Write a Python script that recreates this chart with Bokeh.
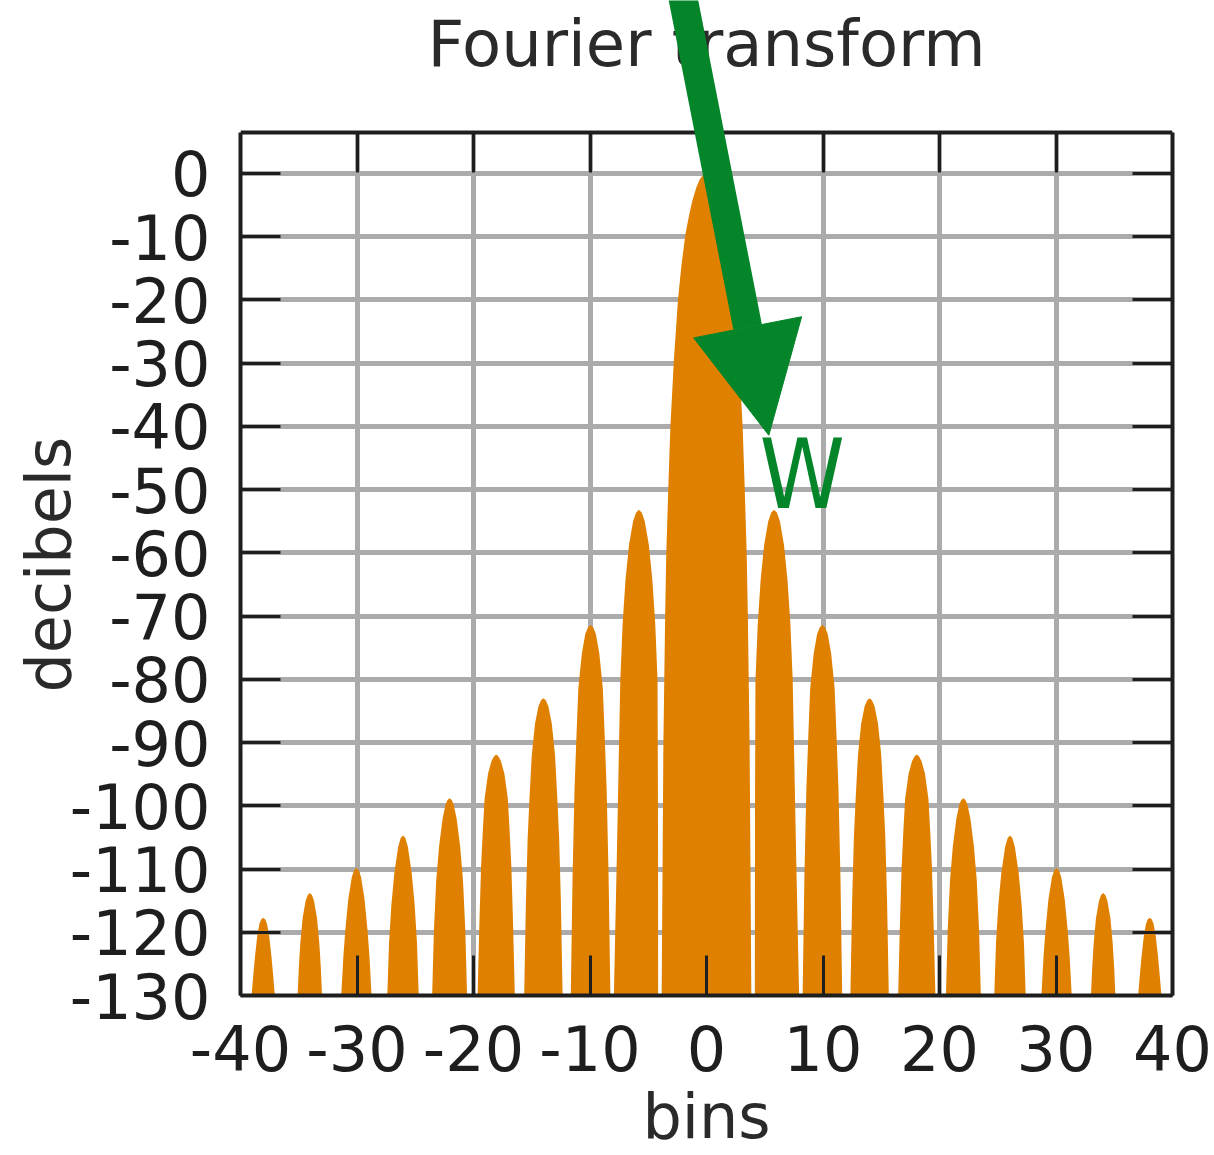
from bokeh.plotting import figure
from bokeh.models import LinearAxis, FixedTicker, Arrow, NormalHead, Label, Range1d, Grid, Title
from bokeh.embed import file_html
from bokeh.resources import INLINE

# Magnitude spectrum outline (bins, decibels), one lobe per line, left to right.
BINS = [
    -39.05, -38.9, -38.75, -38.57, -38.38, -38.23, -38.05, -37.87, -37.72, -37.53, -37.35, -37.2, -37.05,
    -35.1, -35.0, -34.87, -34.67, -34.41, -34.23, -34.05, -33.87, -33.69, -33.43, -33.23, -33.1, -33.0,
    -31.35, -31.17, -31.0, -30.75, -30.45, -30.25, -30.05, -29.85, -29.65, -29.35, -29.1, -28.93, -28.75,
    -27.4, -27.25, -27.05, -26.8, -26.47, -26.25, -26.05, -25.85, -25.63, -25.3, -25.05, -24.85, -24.7,
    -23.55, -23.4, -23.2, -22.95, -22.65, -22.4, -22.23, -22.05, -21.87, -21.7, -21.45, -21.15, -20.9, -20.7, -20.55,
    -19.65, -19.5, -19.35, -19.2, -19.05, -18.75, -18.45, -18.25, -18.05, -17.85, -17.65, -17.35, -17.05, -16.9, -16.75, -16.6, -16.45,
    -15.65, -15.5, -15.35, -15.2, -15.0, -14.72, -14.42, -14.2, -14.0, -13.8, -13.58, -13.28, -13.0, -12.8, -12.65, -12.5, -12.35,
    -11.65, -11.5, -11.33, -11.15, -11.0, -10.7, -10.4, -10.17, -9.95, -9.73, -9.5, -9.2, -8.9, -8.75, -8.57, -8.4, -8.25,
    -7.95, -7.7, -7.4, -7.2, -6.95, -6.65, -6.3, -6.05, -5.8, -5.55, -5.3, -4.95, -4.65, -4.4, -4.2, -4.16, -4.15,
    -3.85, -3.7, -3.55, -3.45, -3.25, -3.1, -2.8, -2.45, -2.15, -1.8, -1.45, -1.2, -0.85, -0.6, -0.3, 0.0,
    0.3, 0.6, 0.85, 1.2, 1.45, 1.8, 2.15, 2.45, 2.8, 3.1, 3.25, 3.45, 3.55, 3.7, 3.85,
    4.15, 4.16, 4.2, 4.4, 4.65, 4.95, 5.3, 5.55, 5.8, 6.05, 6.3, 6.65, 6.95, 7.2, 7.4, 7.7, 7.95,
    8.25, 8.4, 8.57, 8.75, 8.9, 9.2, 9.5, 9.73, 9.95, 10.17, 10.4, 10.7, 11.0, 11.15, 11.33, 11.5, 11.65,
    12.35, 12.5, 12.65, 12.8, 13.0, 13.28, 13.58, 13.8, 14.0, 14.2, 14.42, 14.72, 15.0, 15.2, 15.35, 15.5, 15.65,
    16.45, 16.6, 16.75, 16.9, 17.05, 17.35, 17.65, 17.85, 18.05, 18.25, 18.45, 18.75, 19.05, 19.2, 19.35, 19.5, 19.65,
    20.55, 20.7, 20.9, 21.15, 21.45, 21.7, 21.87, 22.05, 22.23, 22.4, 22.65, 22.95, 23.2, 23.4, 23.55,
    24.7, 24.85, 25.05, 25.3, 25.63, 25.85, 26.05, 26.25, 26.47, 26.8, 27.05, 27.25, 27.4,
    28.75, 28.93, 29.1, 29.35, 29.65, 29.85, 30.05, 30.25, 30.45, 30.75, 31.0, 31.17, 31.35,
    33.0, 33.1, 33.23, 33.43, 33.69, 33.87, 34.05, 34.23, 34.41, 34.67, 34.87, 35.0, 35.1,
    37.05, 37.2, 37.35, 37.53, 37.72, 37.87, 38.05, 38.23, 38.38, 38.57, 38.75, 38.9, 39.05,
]
DB = [
    -130, -126.7, -123.7, -120.7, -118.7, -118.0, -117.7, -118.0, -118.7, -120.7, -123.7, -126.7, -130,
    -130, -125.8, -121.8, -117.8, -115.0, -114.1, -113.8, -114.1, -115.0, -117.8, -121.8, -125.8, -130,
    -130, -123.8, -119.6, -114.8, -111.3, -110.2, -109.8, -110.2, -111.3, -114.8, -119.6, -123.8, -130,
    -130, -121.7, -115.7, -110.7, -106.5, -105.1, -104.7, -105.1, -106.5, -110.7, -115.7, -121.7, -130,
    -130, -119.8, -111.8, -106.3, -102.0, -99.8, -99.1, -98.8, -99.1, -99.8, -102.0, -106.3, -111.8, -119.8, -130,
    -130, -118.9, -109.6, -103.9, -98.9, -94.9, -92.9, -92.2, -91.9, -92.2, -92.9, -94.9, -98.9, -103.9, -109.6, -118.9, -130,
    -130, -115, -105, -99, -92, -87, -84.2, -83.3, -83.0, -83.3, -84.2, -87, -92, -99, -105, -115, -130,
    -130, -111.4, -97.4, -88.4, -81.4, -75.9, -72.8, -71.75, -71.4, -71.75, -72.8, -75.9, -81.4, -88.4, -97.4, -111.4, -130,
    -130, -108.2, -80.2, -71.2, -64.2, -58.7, -55.0, -53.65, -53.2, -53.65, -55.0, -58.7, -64.2, -71.2, -80.2, -103.2, -130,
    -130, -90, -70, -60, -48, -40, -29.5, -20, -14.5, -9.5, -6.2, -4.2, -2.1, -1.0, -0.25, 0,
    -0.25, -1.0, -2.1, -4.2, -6.2, -9.5, -14.5, -20, -29.5, -40, -48, -60, -70, -90, -130,
    -130, -103.2, -80.2, -71.2, -64.2, -58.7, -55.0, -53.65, -53.2, -53.65, -55.0, -58.7, -64.2, -71.2, -80.2, -108.2, -130,
    -130, -111.4, -97.4, -88.4, -81.4, -75.9, -72.8, -71.75, -71.4, -71.75, -72.8, -75.9, -81.4, -88.4, -97.4, -111.4, -130,
    -130, -115, -105, -99, -92, -87, -84.2, -83.3, -83.0, -83.3, -84.2, -87, -92, -99, -105, -115, -130,
    -130, -118.9, -109.6, -103.9, -98.9, -94.9, -92.9, -92.2, -91.9, -92.2, -92.9, -94.9, -98.9, -103.9, -109.6, -118.9, -130,
    -130, -119.8, -111.8, -106.3, -102.0, -99.8, -99.1, -98.8, -99.1, -99.8, -102.0, -106.3, -111.8, -119.8, -130,
    -130, -121.7, -115.7, -110.7, -106.5, -105.1, -104.7, -105.1, -106.5, -110.7, -115.7, -121.7, -130,
    -130, -123.8, -119.6, -114.8, -111.3, -110.2, -109.8, -110.2, -111.3, -114.8, -119.6, -123.8, -130,
    -130, -125.8, -121.8, -117.8, -115.0, -114.1, -113.8, -114.1, -115.0, -117.8, -121.8, -125.8, -130,
    -130, -126.7, -123.7, -120.7, -118.7, -118.0, -117.7, -118.0, -118.7, -120.7, -123.7, -126.7, -130,
]
assert len(BINS) == len(DB)

X_TICKS = [-40, -30, -20, -10, 0, 10, 20, 30, 40]
Y_TICKS = [0, -10, -20, -30, -40, -50, -60, -70, -80, -90, -100, -110, -120, -130]

DB_MIN, DB_MAX = -130, 6.5       # plot box
TOP_OF_CANVAS = 27.35            # room above the box for the title and arrow

TITLE = "Fourier transform"
X_LABEL = "bins"
Y_LABEL = "decibels"
MARK = "W"

# Arrow pointing at the first side lobe (data coordinates).
ARROW_START = (-2.31, 30.5)
ARROW_END = (5.35, -41.4)

ORANGE = "#e08000"
GREEN = "#04852a"
INK = "#1e1e1e"
LABEL_INK = "#2a2a2a"
GRID = "#ababab"
FONT = "DejaVu Sans"

p = figure(
    width=1214, height=1155,
    x_range=Range1d(-40, 40), y_range=Range1d(DB_MIN, TOP_OF_CANVAS),
    output_backend="svg", toolbar_location=None,
    min_border_left=240, min_border_right=42,
    min_border_top=0, min_border_bottom=159,
    background_fill_color="white", border_fill_color="white",
)
p.outline_line_color = None

# top edge of the box is an axis pinned at DB_MAX
p.add_layout(LinearAxis(fixed_location=DB_MAX), "above")
p.add_layout(LinearAxis(), "right")

for ax in p.xaxis:
    ax.ticker = FixedTicker(ticks=X_TICKS)
    ax.major_label_overrides = {t: str(t) for t in X_TICKS}
for ax in p.yaxis:
    ax.ticker = FixedTicker(ticks=Y_TICKS)
    ax.major_label_overrides = {t: str(t) for t in Y_TICKS}
    ax.bounds = (DB_MIN, DB_MAX)

for ax in p.axis:
    ax.major_tick_in = 40
    ax.major_tick_out = 0
    ax.major_tick_line_color = INK
    ax.major_tick_line_width = 3
    ax.minor_tick_line_color = None
    ax.axis_line_color = INK
    ax.axis_line_width = 4
    ax.major_label_text_font = FONT
    ax.major_label_text_font_size = "62px"
    ax.major_label_text_color = INK
    ax.axis_label_text_font = FONT
    ax.axis_label_text_font_size = "62px"
    ax.axis_label_text_font_style = "normal"
    ax.axis_label_text_color = LABEL_INK

bottom = p.below[0]
bottom.major_label_standoff = 29
bottom.axis_label = X_LABEL
bottom.axis_label_standoff = 6

left = p.left[0]
left.major_label_standoff = 30

# mirrored axes on the top and right carry ticks only
for ax in (p.above[0], p.right[0]):
    ax.major_label_text_font_size = "0px"
    ax.major_label_text_color = None
    ax.major_label_standoff = 0

# y axis title beside the tick labels, placed along the box height
p.add_layout(Title(text=Y_LABEL, align="left", offset=303, standoff=-36,
                   text_font=FONT, text_font_size="62px", text_font_style="normal",
                   text_color=LABEL_INK), "left")

p.xgrid.ticker = FixedTicker(ticks=X_TICKS)
p.ygrid.ticker = FixedTicker(ticks=Y_TICKS)
for g in (p.xgrid, p.ygrid):
    g.grid_line_color = GRID
    g.grid_line_width = 5
if "cross_bounds" in Grid.properties():
    p.xgrid.cross_bounds = (DB_MIN, DB_MAX)
else:
    p.xgrid.visible = False
    p.segment(x0=X_TICKS, y0=DB_MIN, x1=X_TICKS, y1=DB_MAX,
              line_color=GRID, line_width=5, level="underlay")

p.varea(x=BINS, y1=DB_MIN, y2=DB, fill_color=ORANGE)

p.add_layout(Label(x=0, y=20.4, text=TITLE, text_align="center",
                   text_baseline="alphabetic", text_font=FONT,
                   text_font_size="64px", text_color=LABEL_INK))

p.add_layout(Arrow(x_start=ARROW_START[0], y_start=ARROW_START[1],
                   x_end=ARROW_END[0], y_end=ARROW_END[1],
                   line_color=GREEN, line_width=29,
                   end=NormalHead(size=110, fill_color=GREEN, line_color=GREEN, line_width=1)))

p.add_layout(Label(x=4.55, y=-47.7, text=MARK, text_align="left",
                   text_baseline="alphabetic", text_font="DejaVu Sans Condensed",
                   text_font_size="96px", text_color=GREEN))

open("out.html", "w").write(file_html(p, INLINE))
